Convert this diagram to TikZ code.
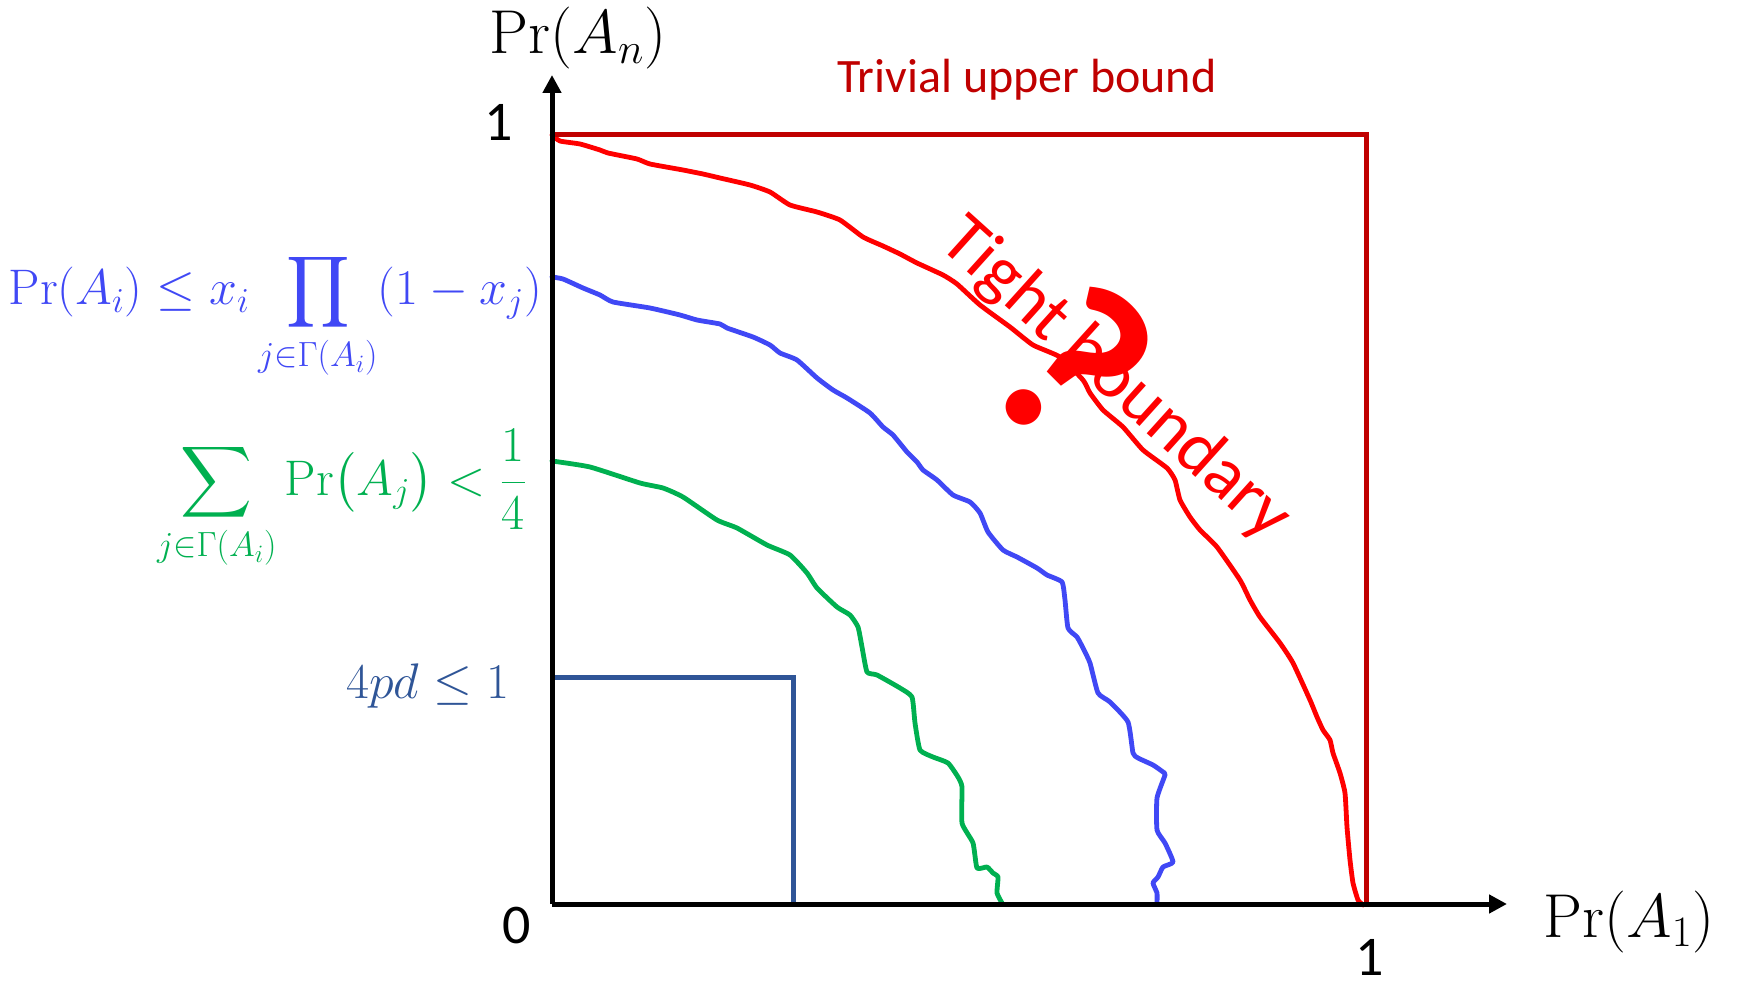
\RequirePackage{fix-cm}
\documentclass[tikz,border=0pt]{standalone}
\usepackage{amsmath}
\usepackage[no-math]{fontspec}
\setmainfont{Carlito}
\usetikzlibrary{arrows.meta}
\definecolor{darkred}{HTML}{C00000}
\definecolor{brightred}{HTML}{FF0000}
\definecolor{lllblue}{RGB}{64,72,245}
\definecolor{lllgreen}{HTML}{00B050}
\definecolor{pdblue}{HTML}{2F5597}
\tikzset{
  axisline/.style={line width=2.5pt, -{Triangle[length=9pt,width=9pt]}},
  boxline/.style={line width=2.5pt, line join=miter},
  bound/.style={line width=2.4pt, line join=round, line cap=round},
  lbl/.style={inner sep=0pt, outer sep=0pt},
  mathlbl/.style={lbl, font=\fontsize{25}{30}\selectfont},
  axislbl/.style={lbl, font=\fontsize{31}{36}\selectfont},
  numlbl/.style={lbl, font=\fontsize{28}{32}\selectfont},
}
\begin{document}
\begin{tikzpicture}[x=0.5pt,y=-0.5pt]
\useasboundingbox (0,0) rectangle (1737,984);
% coordinates
\coordinate (O) at (552,904);
\coordinate (yend) at (552,75);
\coordinate (xend) at (1507,904);
\coordinate (ul) at (552,135);
\coordinate (ur) at (1366,135);
\coordinate (lr) at (1366,904);
\coordinate (pdtl) at (552,677);
\coordinate (pdtr) at (793,677);
\coordinate (pdbr) at (793,904);
% curves
\draw[bound, brightred] plot[smooth, tension=0.3] coordinates {(552,135) (560,141) (580,144) (600,150) (608,153) (637,159) (650,164) (683,170) (703,174) (720,178) (750,185) (770,192) (790,205) (817,212) (840,220) (863,237) (883,246) (900,254) (917,263) (943,275) (957,284) (980,305) (1010,327) (1033,345) (1060,357) (1083,380) (1090,393) (1103,410) (1123,427) (1143,450) (1167,468) (1175,480) (1180,500) (1190,517) (1200,530) (1217,547) (1240,580) (1250,600) (1260,617) (1280,643) (1293,663) (1310,700) (1317,717) (1323,730) (1330,740) (1333,753) (1340,773) (1345,793) (1347,827) (1350,860) (1353,883) (1358,900) (1363,905)};
\draw[bound, lllblue] plot[smooth, tension=0.3] coordinates {(552,277) (563,279) (583,288) (600,295) (613,302) (650,308) (680,315) (697,320) (720,324) (727,328) (753,337) (770,345) (780,353) (797,360) (817,378) (833,390) (847,398) (870,413) (883,427) (893,435) (907,452) (917,462) (923,470) (937,480) (953,495) (970,502) (980,513) (988,532) (1003,550) (1017,557) (1037,568) (1047,575) (1062,582) (1065,600) (1068,628) (1077,637) (1083,648) (1090,663) (1098,693) (1110,702) (1128,722) (1133,753) (1138,758) (1153,765) (1163,772) (1165,775) (1157,798) (1157,830) (1165,843) (1173,862) (1163,867) (1158,877) (1153,883) (1157,893) (1157,903)};
\draw[bound, lllgreen] plot[smooth, tension=0.3] coordinates {(552,461) (590,467) (640,483) (663,488) (683,497) (717,520) (737,528) (767,545) (790,555) (807,573) (817,588) (837,607) (850,615) (858,627) (862,647) (867,672) (877,675) (900,688) (912,697) (915,723) (920,750) (933,757) (948,763) (958,777) (962,787) (962,823) (973,843) (977,868) (987,867) (993,873) (998,877) (997,893) (1002,903)};
% boxes
\draw[boxline, darkred] (ul) -- (ur) -- (lr);
\draw[boxline, pdblue] (pdtl) -- (pdtr) -- (pdbr);
% axes
\draw[axisline] (O) -- (yend);
\draw[axisline] (O) -- (xend);
% labels
\node[axislbl, anchor=base] (ylab) at (578,54) {$\Pr(A_n)$};
\node[axislbl, anchor=base] (xlab) at (1629,937) {$\Pr(A_1)$};
\node[numlbl] (yone) at (499,122) {1};
\node[numlbl] (zero) at (517,926) {0};
\node[numlbl] (xone) at (1370,957) {1};
\node[lbl, anchor=base, text=darkred, font=\fontsize{24}{28}\selectfont] (triv) at (1027,93) {Trivial upper bound};
\node[lbl, anchor=base, rotate=-42, text=brightred, font=\fontsize{36}{40}\selectfont] (tight) at (1103,394) {Tight boundary};
\node[lbl, rotate=-45, text=brightred, font=\fontsize{119}{128}\selectfont\bfseries] (qm) at (1074,365) {?};
\node[mathlbl, anchor=base east, text=lllblue] (lll) at (542,305) {$\displaystyle \Pr(A_i)\le x_i\prod_{j\in\Gamma(A_i)}(1-x_j)$};
\node[mathlbl, anchor=base east, text=lllgreen] (sumlab) at (527,495) {$\displaystyle \sum_{j\in\Gamma(A_i)}\Pr\bigl(A_j\bigr)<\frac{1}{4}$};
\node[mathlbl, anchor=base east, text=pdblue] (pd) at (509,698) {$4pd\le 1$};
\end{tikzpicture}
\end{document}
